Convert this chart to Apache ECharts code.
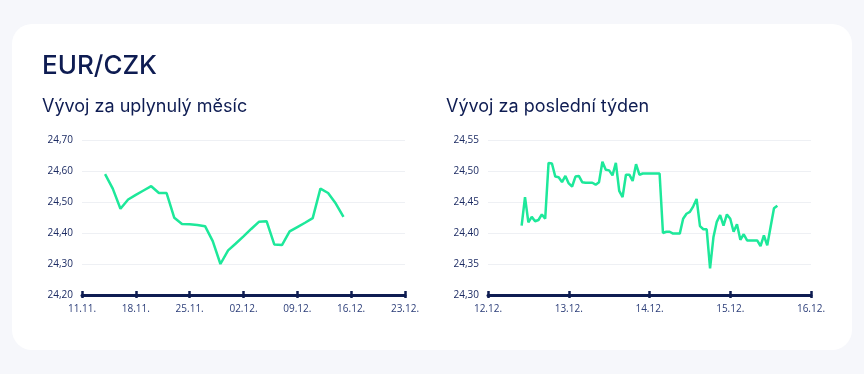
<!DOCTYPE html>
<html>
<head>
<meta charset="utf-8">
<style>
  html, body { margin: 0; padding: 0; background: #f6f7fb; }
  #chart { width: 864px; height: 374px; }
</style>
<script src="https://cdn.jsdelivr.net/npm/echarts@6/dist/echarts.min.js"></script>
</head>
<body>
<div id="chart"></div>
<script>
// ---- Data ----
const monthTickLabels = ['11.11.', '18.11.', '25.11.', '02.12.', '09.12.', '16.12.', '23.12.'];
// day offsets from 11.11.
const monthDays = [3, 4, 5, 6, 7, 8, 9, 10, 11, 12, 13, 14, 15, 16, 17, 18, 19, 20, 21, 22, 23, 24, 25, 26, 27, 28, 29, 30, 31, 32, 33, 34];
const monthValues = [24.590, 24.543, 24.478, 24.508, 24.523, 24.537, 24.551, 24.529, 24.529, 24.449, 24.429, 24.428, 24.426, 24.422, 24.374, 24.300,
  24.344, 24.366, 24.389, 24.413, 24.436, 24.438, 24.363, 24.361, 24.405, 24.419, 24.433, 24.448, 24.543, 24.529, 24.495, 24.452];

const weekTickLabels = ['12.12.', '13.12.', '14.12.', '15.12.', '16.12.'];
// hourly values, first one at hour 10 after 12.12. 00:00
const weekStartHour = 10;
const weekValues = [24.412, 24.458, 24.417, 24.426, 24.419, 24.421, 24.430, 24.423, 24.513, 24.512,
  24.491, 24.490, 24.482, 24.492, 24.480, 24.475, 24.491, 24.492, 24.482, 24.481,
  24.481, 24.481, 24.478, 24.482, 24.515, 24.502, 24.501, 24.493, 24.513, 24.468,
  24.458, 24.494, 24.494, 24.484, 24.511, 24.494, 24.496, 24.496, 24.496, 24.496,
  24.496, 24.496, 24.400, 24.402, 24.402, 24.399, 24.399, 24.399, 24.423, 24.431,
  24.434, 24.443, 24.455, 24.411, 24.406, 24.406, 24.343, 24.393, 24.418, 24.429,
  24.412, 24.430, 24.423, 24.402, 24.414, 24.389, 24.398, 24.388, 24.388, 24.388,
  24.388, 24.379, 24.396, 24.380, 24.410, 24.440, 24.444];

const titleText = 'EUR/CZK';
const monthTitle = 'Vývoj za uplynulý měsíc';
const weekTitle = 'Vývoj za poslední týden';

// ---- Styles ----
const navy = '#0e1c52';
const green = '#1de89a';
const fontFamily = '"Open Sans", "Noto Sans", sans-serif';
const titleFont = 'Inter, "Noto Sans", sans-serif';

const monthData = monthDays.map((d, i) => [d, monthValues[i]]);
const weekData = weekValues.map((v, i) => [weekStartHour + i, v]);

const fmtY = v => v.toFixed(2).replace('.', ',');

function xAxes(gridIndex, max, interval, labels) {
  return [
    {
      type: 'value', gridIndex, min: 0, max, interval,
      axisLine: { show: true, lineStyle: { color: navy, width: 3 } },
      axisTick: { show: true, inside: true, length: 4, lineStyle: { color: navy, width: 2.5 } },
      splitLine: { show: false },
      axisLabel: {
        color: '#2b3d78', fontSize: 10, fontFamily, margin: 9,
        formatter: v => labels[Math.round(v / interval)] || ''
      }
    },
    {
      type: 'value', gridIndex, min: 0, max, interval, position: 'bottom',
      axisLine: { show: false },
      axisTick: { show: true, inside: false, length: 3, lineStyle: { color: navy, width: 2.5 } },
      splitLine: { show: false },
      axisLabel: { show: false }
    }
  ];
}

function yAxis(gridIndex, min, max, interval) {
  return {
    type: 'value', gridIndex, min, max, interval,
    axisLine: { show: false },
    axisTick: { show: false },
    splitLine: { show: true, lineStyle: { color: '#eef0f4', width: 1 } },
    axisLabel: { color: '#1c2b63', fontSize: 10, fontFamily, margin: 9, formatter: fmtY }
  };
}

const chart = echarts.init(document.getElementById('chart'), null, { renderer: 'canvas' });
chart.setOption({
  backgroundColor: '#f6f7fb',
  animation: false,
  graphic: [{
    type: 'rect', z: -10, silent: true,
    shape: { x: 12, y: 24, width: 840, height: 326, r: 20 },
    style: { fill: '#ffffff' }
  }],
  title: [
    { text: titleText, left: 37, top: 48, textStyle: { color: navy, fontSize: 26, fontWeight: 500, fontFamily: titleFont } },
    { text: monthTitle, left: 37, top: 93, textStyle: { color: navy, fontSize: 18, fontWeight: 400, fontFamily: titleFont } },
    { text: weekTitle, left: 441, top: 93, textStyle: { color: navy, fontSize: 18, fontWeight: 400, fontFamily: titleFont } }
  ],
  grid: [
    { left: 82, right: 459, top: 140, bottom: 79 },
    { left: 488, right: 53, top: 140, bottom: 79 }
  ],
  xAxis: [
    ...xAxes(0, 42, 7, monthTickLabels),
    ...xAxes(1, 96, 24, weekTickLabels)
  ],
  yAxis: [
    yAxis(0, 24.2, 24.7, 0.1),
    yAxis(1, 24.3, 24.55, 0.05)
  ],
  series: [
    {
      type: 'line', xAxisIndex: 0, yAxisIndex: 0, data: monthData,
      showSymbol: false, lineStyle: { color: green, width: 2.5 }, z: 5
    },
    {
      type: 'line', xAxisIndex: 2, yAxisIndex: 1, data: weekData,
      showSymbol: false, lineStyle: { color: green, width: 2.5 }, z: 5
    }
  ]
});
</script>
</body>
</html>
